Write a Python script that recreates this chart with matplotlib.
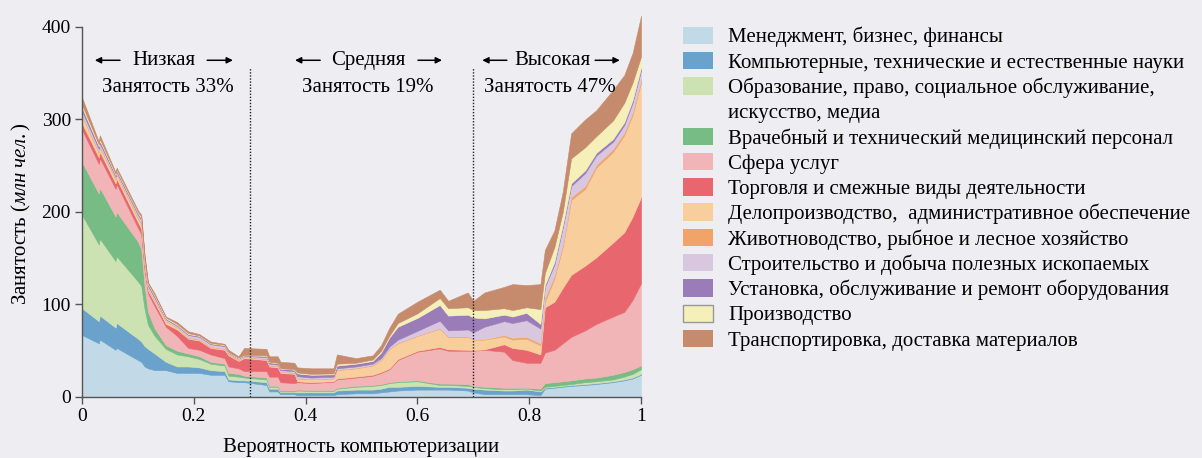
import numpy as np
import matplotlib
matplotlib.use('Agg')
import matplotlib.pyplot as plt
from matplotlib.patches import Patch

plt.rcParams['font.family'] = ['Liberation Serif', 'DejaVu Serif']
plt.rcParams['mathtext.fontset'] = 'custom'
plt.rcParams['mathtext.rm'] = 'Liberation Serif'
plt.rcParams['mathtext.it'] = 'Liberation Serif:italic'

# вероятность компьютеризации (ось x)
prob = [0.000, 0.030, 0.032, 0.060, 0.062, 0.100, 0.106, 0.112, 0.118, 0.130,
        0.150, 0.170, 0.190, 0.210, 0.230, 0.255, 0.262, 0.280, 0.290, 0.330,
        0.335, 0.350, 0.355, 0.380, 0.385, 0.410, 0.450, 0.456, 0.490, 0.520,
        0.535, 0.550, 0.565, 0.600, 0.640, 0.655, 0.690, 0.700, 0.720, 0.755,
        0.770, 0.795, 0.820, 0.828, 0.845, 0.860, 0.875, 0.900, 0.920, 0.950,
        0.970, 0.985, 1.000]

# занятость по группам профессий, млн чел.
management = [67, 58, 62, 51, 53, 40, 38, 33, 31, 29,
              29, 26, 26, 26, 24, 24, 17, 16, 16, 13,
              6, 6, 3, 3, 2, 2, 2, 3, 4, 4,
              5, 6, 7, 8, 8, 8, 7, 5, 3, 3,
              3, 3, 2, 9, 10, 11, 12, 13, 14, 16,
              18, 20, 24]
computer = [29, 24, 26, 24, 27, 23, 22, 22, 21, 18,
            9, 7, 7, 6, 5, 4, 2, 2, 2, 3,
            3, 3, 2, 2, 3, 3, 3, 4, 4, 4,
            4, 5, 4, 4, 3, 3, 3, 4, 5, 4,
            4, 5, 4, 1, 1, 1, 1, 1, 1, 1,
            1, 1, 1]
education = [101, 83, 83, 72, 72, 62, 60, 40, 26, 19,
             14, 13, 11, 9, 7, 6, 4, 4, 3, 3,
             2, 2, 1, 1, 2, 1.5, 1.5, 2, 3, 4,
             4, 4, 5, 5, 2, 2, 2, 2, 1.5, 1.5,
             1.5, 1, 1, 1, 1, 1, 1, 2, 2, 2,
             3, 4, 5]
healthcare = [57, 55, 55, 48, 48, 43, 40, 25, 14, 8,
              4, 4, 3, 3, 2, 2, 3, 3, 2, 2,
              1, 1, 1, 1, 1, 1, 1, 1, 1, 1,
              1, 1, 1, 1, 1.5, 1.5, 2, 1, 1.5, 1.5,
              1.5, 1, 2, 4, 4, 4, 4, 4, 4, 5,
              5, 5, 4]
service = [35, 32, 32, 30, 30, 15, 16, 17, 20, 24,
           20, 16, 6, 7, 8, 6, 7, 6, 5, 7,
           10, 10, 9, 8, 8, 7.5, 9, 9, 9, 10,
           12, 14, 23, 31, 38, 35.5, 36, 38, 40, 39,
           30, 27, 28, 33, 35, 41, 47, 52, 58, 63,
           65, 75, 89]
sales = [7, 7, 7, 6, 6, 6, 6, 4, 3, 4,
         3, 7, 10, 10, 7, 9, 12, 8, 14, 12,
         11, 10, 10, 10, 1, 1, 0.5, 1, 1, 1,
         1, 1, 1, 1, 1.5, 1.5, 1, 0.5, 0.5, 8,
         13, 14, 9, 49, 52, 60, 67, 70, 72, 80,
         86, 90, 93]
office = [8, 5, 5, 4, 4, 4, 5, 3, 2, 2,
          3, 2, 1, 1, 1, 1, 1, 1, 1, 1,
          1, 1, 1, 1, 3, 3, 3, 9, 9, 10,
          13, 21, 17, 16, 20, 13.5, 14, 11.5, 10.5, 8.5,
          9, 12, 10, 6, 25, 44, 81, 83, 97, 98,
          105, 110, 124]
farming = [1, 1, 1, 1, 1, 1, 1, 1, 0.5, 0.5,
           0.5, 0.5, 0.5, 0.5, 0.5, 0.5, 0.5, 0.5, 0.5, 0.5,
           0.5, 0.5, 0.5, 0.5, 0.5, 0.5, 0.5, 0.5, 0.5, 0.5,
           0.5, 0.5, 0.5, 0.5, 0.5, 0.5, 0.5, 0.5, 0.5, 1.5,
           2, 2, 2, 4, 3, 3, 3, 3, 3, 3,
           3, 3, 3]
construction = [4, 3, 3, 2, 2, 3, 3, 3, 2.5, 2.5,
                1.5, 1.5, 2.5, 2.5, 2.5, 2.5, 1, 1, 1, 1.5,
                1.5, 1.5, 1.5, 1.5, 2, 1.5, 1.5, 1.5, 1.5, 1.5,
                1.5, 2, 3.5, 5, 8, 6.5, 7.5, 7.5, 13.5, 15,
                16, 18, 16, 12, 12, 18, 12, 14, 10, 8,
                8, 10, 10]
installation = [4, 3, 3, 2, 2, 2, 2, 2, 2, 2,
                1, 1, 1, 1, 1, 1, 0.5, 0.5, 0.5, 1.5,
                1.5, 1.5, 1.5, 1.5, 3, 3, 2.5, 3, 3, 3,
                6, 10, 14, 14, 17, 16, 16, 16, 9, 7,
                7, 8, 5, 2, 3, 3, 3, 3, 3, 3,
                3, 3, 3]
production = [3, 2, 2, 1, 1, 1, 2, 1, 1, 1,
              1, 1, 1, 0.5, 0.5, 0.5, 0.5, 0.5, 0.5, 0.5,
              0.5, 0.5, 0.5, 0.5, 1, 1, 1, 2, 1, 1.5,
              2, 2, 4, 5, 7.5, 8, 8, 8, 9, 7,
              7, 6, 16, 13, 16, 14, 27, 25, 18, 20,
              21, 19, 12]
transport = [8, 3, 4, 2, 2, 2, 2, 2, 1, 2,
             1, 2, 2, 1.5, 1.5, 1, 2.5, 1.5, 7.5, 7,
             6, 7, 7, 7, 5.5, 6, 5.5, 10, 5, 4.5,
             6, 8.5, 10, 12.5, 9, 8, 16, 10, 19, 23,
             28, 24, 27, 25, 18, 22, 27, 30, 28, 33,
             30, 32, 44]

categories = ['Менеджмент, бизнес, финансы',
              'Компьютерные, технические и естественные науки',
              'Образование, право, социальное обслуживание,\nискусство, медиа',
              'Врачебный и технический медицинский персонал',
              'Сфера услуг',
              'Торговля и смежные виды деятельности',
              'Делопроизводство,  административное обеспечение',
              'Животноводство, рыбное и лесное хозяйство',
              'Строительство и добыча полезных ископаемых',
              'Установка, обслуживание и ремонт оборудования',
              'Производство',
              'Транспортировка, доставка материалов']
colors = ['#c2dae8', '#6aa2cb', '#cde2b2', '#76bc84', '#f2b5b7', '#e8676e',
          '#f8ce9d', '#f2a468', '#d9c7e0', '#9a7db8', '#f5f0ba', '#c68b6c']

# зоны риска
zones = ['Низкая', 'Средняя', 'Высокая']
zone_shares = ['Занятость 33%', 'Занятость 19%', 'Занятость 47%']
zone_bounds = [0.3, 0.7]

bg = '#ededf2'
fig = plt.figure(figsize=(12.02, 4.58), dpi=100, facecolor=bg)
ax = fig.add_axes([0.0682, 0.1332, 0.4651, 0.8483], facecolor=bg)

series = [management, computer, education, healthcare, service, sales,
          office, farming, construction, installation, production, transport]
polys = ax.stackplot(prob, *series, colors=colors, linewidth=0.4)
for p, c in zip(polys, colors):
    p.set_edgecolor(c)

ax.vlines(zone_bounds, 0, 356, colors='#222222', linestyles=(0, (1, 1.2)), lw=1, zorder=5)

# подписи зон со стрелками
fs = 15
label_x = [0.146, 0.512, 0.841]
share_x = [0.154, 0.512, 0.837]
arrows = [(0.068, 0.023, 0.224, 0.270), (0.426, 0.381, 0.601, 0.644), (0.760, 0.716, 0.918, 0.962)]
for name, share, lx, sx, (lt, lh, rt, rh) in zip(zones, zone_shares, label_x, share_x, arrows):
    ax.text(lx, 364, name, ha='center', va='center', fontsize=fs)
    ax.text(sx, 335, share, ha='center', va='center', fontsize=fs)
    for t, h in [(lt, lh), (rt, rh)]:
        ax.annotate('', xy=(h, 364), xytext=(t, 364),
                    arrowprops=dict(arrowstyle='-|>', color='black', lw=1.1, mutation_scale=9,
                                    shrinkA=0, shrinkB=0))

ax.set_xlim(0, 1)
ax.set_ylim(0, 420)
ax.set_xticks([0, 0.2, 0.4, 0.6, 0.8, 1])
ax.set_xticklabels(['0', '0.2', '0.4', '0.6', '0.8', '1'])
ax.set_yticks([0, 100, 200, 300, 400])
for s in ['top', 'right']:
    ax.spines[s].set_visible(False)
ax.spines['left'].set_bounds(0, 400)
for s in ['left', 'bottom']:
    ax.spines[s].set_color('#555555')
    ax.spines[s].set_linewidth(1)
ax.tick_params(direction='out', length=5, width=1, color='#555555', labelsize=14, pad=3)
ax.set_xlabel('Вероятность компьютеризации', fontsize=fs, labelpad=9)
ax.set_ylabel('Занятость ($\\mathit{млн\\ чел.}$)', fontsize=fs)
ax.yaxis.set_label_coords(-0.088, 0.471)

# легенда: многострочные подписи разбиваются на строки с пустым маркером
handles, labels = [], []
for cat, col in zip(categories, colors):
    lines = cat.split('\n')
    edge = '#999999' if col == '#f5f0ba' else col
    handles.append(Patch(facecolor=col, edgecolor=edge, lw=1 if col == '#f5f0ba' else 0))
    labels.append(lines[0])
    for extra in lines[1:]:
        handles.append(Patch(facecolor='none', edgecolor='none'))
        labels.append(extra)
fig.legend(handles, labels, loc='upper left', bbox_to_anchor=(0.5682, 0.942), frameon=False,
           fontsize=fs, handlelength=1.44, handleheight=0.91, handletextpad=0.72,
           labelspacing=0.21, borderpad=0, borderaxespad=0)

fig.savefig('out.png', dpi=100, facecolor=bg)
